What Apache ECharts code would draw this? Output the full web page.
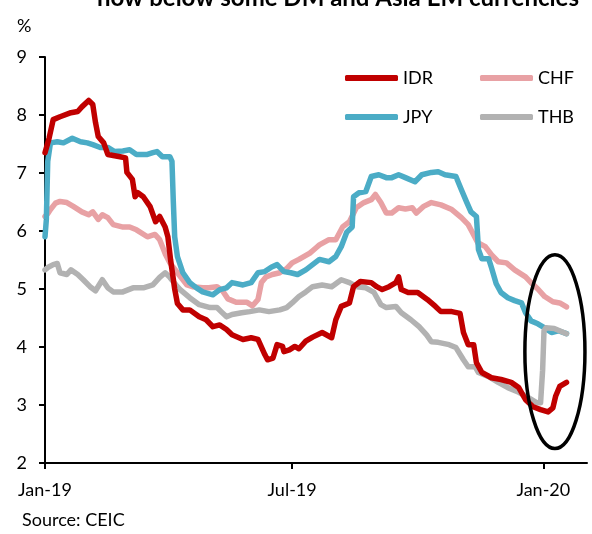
<!DOCTYPE html>
<html><head><meta charset="utf-8">
<script src="https://cdn.jsdelivr.net/npm/echarts@6/dist/echarts.min.js"></script>
<style>html,body{margin:0;padding:0;background:#fff}#c{width:592px;height:534px}</style>
</head><body><div id="c"></div>
<script>
// x = days since 1 Jan 2019
const tickDays = [0, 181, 365];
const tickLabels = ['Jan-19', 'Jul-19', 'Jan-20'];
const seriesNames = ['IDR', 'CHF', 'JPY', 'THB'];

const IDR = [[0,7.35],[3,7.6],[6,7.92],[11,7.97],[19,8.04],[24,8.06],[27,8.14],[32,8.25],[35,8.18],[37,7.87],[39,7.63],[43,7.52],[46,7.32],[55,7.28],[59,7.26],[60,7.01],[64,6.89],[66,6.59],[68,6.66],[72,6.59],[77,6.42],[81,6.16],[84,6.25],[88,6.07],[90,5.90],[92,5.5],[95,5.0],[97,4.75],[101,4.64],[106,4.64],[113,4.52],[118,4.47],[123,4.35],[128,4.38],[133,4.30],[137,4.21],[145,4.13],[151,4.16],[156,4.13],[161,3.87],[163,3.78],[167,3.81],[170,4.04],[174,4.01],[175,3.92],[179,3.95],[183,4.01],[186,3.97],[191,4.1],[196,4.17],[203,4.25],[210,4.16],[213,4.47],[217,4.7],[223,4.76],[226,5.04],[231,5.13],[239,5.11],[243,5.04],[247,4.99],[252,5.04],[257,5.11],[259,5.21],[261,4.99],[266,4.94],[273,4.94],[280,4.82],[286,4.70],[290,4.61],[298,4.61],[304,4.58],[306.5,4.25],[310,4.04],[314,4.04],[316,3.73],[320,3.56],[327,3.47],[334,3.44],[341.5,3.39],[347,3.30],[352,3.09],[357.5,2.97],[363,2.92],[368.5,2.88],[372,2.95],[374,3.15],[377,3.32],[382,3.39]];

const CHF = [[0,6.25],[2,6.30],[4,6.37],[7.7,6.48],[11,6.51],[16,6.49],[21,6.42],[27,6.33],[32,6.28],[35,6.33],[39,6.20],[42,6.28],[46,6.23],[50,6.11],[56.5,6.07],[62,6.07],[67,6.02],[75,5.90],[80.5,5.94],[84,5.85],[88,5.61],[91.5,5.45],[97,5.28],[101,5.16],[104,5.07],[108,5.04],[115.5,5.02],[120,5.02],[126,5.04],[130,4.97],[134,4.83],[140,4.77],[148,4.77],[152,4.71],[156,4.82],[158.5,5.11],[162,5.21],[166.5,5.25],[172,5.28],[177,5.35],[181,5.45],[186,5.51],[194,5.62],[199,5.72],[201,5.76],[208,5.85],[213,5.85],[218,6.07],[223,6.16],[228,6.40],[233.6,6.49],[239,6.54],[242,6.63],[246,6.49],[250,6.31],[254,6.31],[259,6.40],[264,6.38],[269,6.40],[272,6.31],[277,6.42],[283,6.49],[290,6.45],[298,6.37],[305,6.23],[310,6.11],[312,6.02],[317,5.80],[322.5,5.73],[327,5.59],[332,5.47],[338,5.45],[344,5.33],[352,5.21],[356,5.11],[361,5.0],[366,4.87],[372,4.78],[377,4.76],[382,4.69]];

const JPY = [[0,5.9],[1,6.2],[2,7.2],[4,7.52],[9,7.54],[13.5,7.52],[20,7.6],[26,7.54],[31,7.52],[35,7.49],[40.5,7.44],[46,7.44],[51,7.37],[57,7.38],[62,7.40],[67,7.32],[75,7.32],[79,7.35],[82,7.37],[86,7.28],[91.5,7.28],[93,7.2],[94,6.5],[95,5.9],[97,5.56],[101,5.28],[106,5.11],[111,5.02],[115.5,4.95],[123,4.90],[128,4.99],[133,5.02],[137,5.11],[145,5.07],[151,5.11],[156,5.28],[161,5.30],[166,5.38],[170,5.42],[175,5.30],[180,5.28],[185,5.25],[191,5.33],[196,5.42],[201,5.51],[208,5.47],[213,5.56],[217,5.73],[221,5.98],[225,6.07],[226,6.59],[230,6.66],[235,6.68],[239,6.94],[244.5,6.97],[250,6.92],[254,6.92],[259,6.97],[264,6.92],[271,6.85],[276,6.97],[283,7.01],[288,7.02],[293,6.97],[301,6.94],[305,6.71],[309,6.49],[312,6.33],[316,6.25],[317.5,5.68],[320,5.52],[325,5.52],[327,5.37],[330.5,5.09],[334,4.94],[339,4.85],[344,4.80],[349,4.76],[352,4.59],[356,4.45],[361,4.40],[366,4.33],[371,4.25],[376,4.28],[382,4.23]];

const THB = [[0,5.33],[2,5.37],[6,5.42],[9,5.44],[11,5.28],[16,5.25],[19,5.33],[24,5.25],[28,5.16],[33,5.04],[37,4.97],[42,5.16],[46,5.02],[50,4.95],[57,4.95],[64.5,5.02],[72,5.02],[79,5.07],[84,5.20],[88,5.28],[91.5,5.20],[97,5.04],[99,4.99],[106,4.85],[113,4.73],[121,4.68],[126,4.68],[129,4.61],[133,4.52],[137,4.56],[144,4.59],[150,4.61],[157,4.64],[164,4.61],[172,4.64],[177,4.68],[181,4.76],[186,4.87],[191,4.95],[196,5.04],[203,5.07],[210,5.04],[217,5.16],[223,5.11],[228.5,5.04],[235,5.02],[241,4.94],[246,4.73],[250,4.68],[257,4.70],[261,4.59],[268,4.47],[274,4.35],[279.5,4.21],[283,4.09],[288,4.08],[296,4.04],[301,3.99],[306.5,3.78],[310,3.66],[315,3.66],[317.5,3.56],[325,3.49],[332,3.39],[339,3.30],[347,3.22],[354,3.13],[360,3.04],[363,3.04],[364.5,3.6],[365.5,4.28],[367,4.33],[373,4.32],[382,4.23]];

const colors = {IDR:'#C00000', CHF:'#E8A1A4', JPY:'#4BACC6', THB:'#B2B2B2'};
const dataMap = {IDR, CHF, JPY, THB};
const FONT = 'Lato, "Open Sans", sans-serif';

const chart = echarts.init(document.getElementById('c'));
const drawOrder = ['CHF', 'JPY', 'THB', 'IDR'];
const series = drawOrder.map(n => ({
  name: n, type: 'line', data: dataMap[n], symbol: 'none', smooth: false,
  lineStyle: {color: colors[n], width: 5.5, cap: 'round', join: 'round'},
  itemStyle: {color: colors[n]}, animation: false
}));

const legendBase = {
  orient: 'vertical', icon: 'roundRect', itemWidth: 53, itemHeight: 6, itemGap: 19,
  textStyle: {fontFamily: FONT, fontSize: 18, color: '#000', lineHeight: 20},
  selectedMode: false
};

chart.setOption({
  animation: false,
  grid: {left: 45, top: 57, right: 5, bottom: 71, containLabel: false},
  legend: [
    Object.assign({}, legendBase, {data: ['IDR', 'JPY'], left: 340, top: 63}),
    Object.assign({}, legendBase, {data: ['CHF', 'THB'], left: 475, top: 63})
  ],
  xAxis: {
    type: 'value', min: 0, max: 397,
    axisLine: {show: true, lineStyle: {color: '#000', width: 2}},
    axisTick: {show: true, customValues: tickDays, length: 6, lineStyle: {color: '#000', width: 2}},
    axisLabel: {customValues: tickDays, margin: 18, fontFamily: FONT, fontSize: 18, color: '#000',
      formatter: v => tickLabels[tickDays.indexOf(v)] || ''},
    splitLine: {show: false}
  },
  yAxis: {
    type: 'value', min: 2, max: 9, interval: 1,
    axisLine: {show: true, lineStyle: {color: '#000', width: 2}},
    axisTick: {show: true, length: 6, lineStyle: {color: '#000', width: 2}},
    axisLabel: {margin: 18, fontFamily: FONT, fontSize: 18, color: '#000'},
    splitLine: {show: false}
  },
  series: series
});

// annotation ellipse around the latest moves, placed in data coordinates
const c = chart.convertToPixel({gridIndex: 0}, [373.5, 3.92]);
const e = chart.convertToPixel({gridIndex: 0}, [395.5, 2.25]);
chart.setOption({
  graphic: [
    {type: 'text', left: 97, top: -14, style: {text: 'now below some DM and Asia EM currencies', font: 'bold 24px ' + FONT, fill: '#000'}},
    {type: 'text', left: 17, top: 17, style: {text: '%', font: '18px ' + FONT, fill: '#000'}},
    {type: 'text', left: 22, top: 511, style: {text: 'Source: CEIC', font: '18px ' + FONT, fill: '#000'}},
    {type: 'ellipse', shape: {cx: c[0], cy: c[1], rx: Math.abs(e[0] - c[0]), ry: Math.abs(e[1] - c[1])},
     style: {fill: 'none', stroke: '#000', lineWidth: 3.5}, z: 100}
  ]
});
</script></body></html>
